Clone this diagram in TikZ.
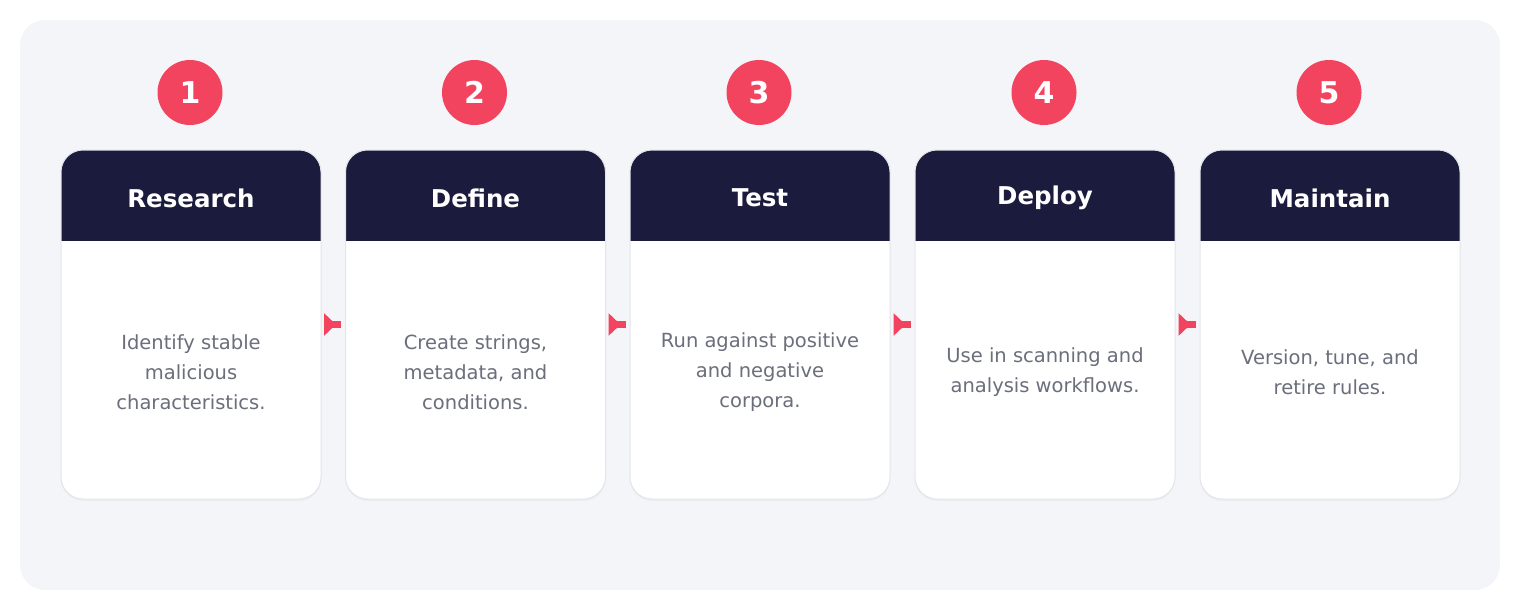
\documentclass[tikz,border=0pt]{standalone}
\usepackage{fontspec}
\setmainfont{DejaVu Sans}
\usetikzlibrary{arrows.meta,calc,positioning,shadows}
\definecolor{panel}{RGB}{244,245,249}
\definecolor{navy}{RGB}{27,28,61}
\definecolor{rose}{RGB}{242,67,95}
\definecolor{edge}{RGB}{228,229,234}
\definecolor{txt}{RGB}{107,110,123}

\begin{document}
\begin{tikzpicture}[x=1pt,y=-1pt,
  card/.style={rectangle,rounded corners=22pt,fill=white,draw=edge,line width=1pt,
     minimum width=260pt,minimum height=349pt,
     drop shadow={opacity=0.06,shadow xshift=0pt,shadow yshift=-2pt},
     path picture={\fill[navy,sharp corners] (path picture bounding box.north west)
        rectangle ([yshift=-91pt]path picture bounding box.north east);}},
  title/.style={text=white,font=\fontsize{24.5}{28}\selectfont\bfseries},
  body/.style={text=txt,align=center,font=\fontsize{19.5}{30}\selectfont},
  badge/.style={circle,fill=rose,minimum size=65pt,inner sep=0pt,text=white,
     font=\fontsize{30}{32}\selectfont\bfseries},
  flow/.style={rose,line width=7pt,shorten <=3pt,shorten >=4pt,
     -{Triangle[length=12pt,width=22pt]Rectangle[length=5pt,width=7pt]}}]
  \useasboundingbox (0,0) rectangle (1520,610);
  \fill[panel,rounded corners=25pt] (20,20) rectangle (1500,590);
  % cards
  \foreach \i/\x/\head/\txt in {
     1/191/Research/{Identify stable\\malicious\\characteristics.},
     2/475.5/Define/{Create strings,\\metadata, and\\conditions.},
     3/760/Test/{Run against positive\\and negative\\corpora.},
     4/1045/Deploy/{Use in scanning and\\analysis workflows.},
     5/1330/Maintain/{Version, tune, and\\retire rules.}}{
    \node[card] (c\i) at (\x,324.5) {};
    \node[title] (t\i) at ([yshift=-48.5pt]c\i.north) {\head};
    \node[body] (b\i) at ([yshift=-223pt]c\i.north) {\txt};
    \node[badge] (n\i) at (\x-1,92.5) {\i};
  }
  % arrows between cards
  \foreach \a/\b in {1/2,2/3,3/4,4/5}
    \draw[flow] (c\a.east) -- (c\b.west);
\end{tikzpicture}
\end{document}
